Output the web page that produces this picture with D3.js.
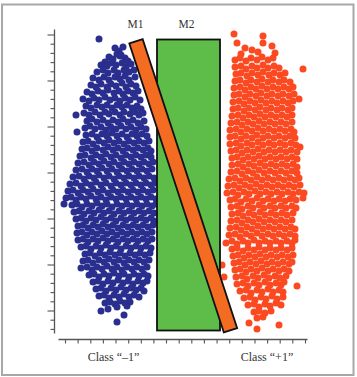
<!DOCTYPE html>
<html><head><meta charset="utf-8">
<script src="https://cdn.jsdelivr.net/npm/d3@7"></script>
<style>html,body{margin:0;padding:0;background:#fff;} svg{display:block;}</style>
</head><body>
<svg id="chart" width="357" height="377"></svg>
<script>
// ---------- data ----------
const classLabels = ["Class \u201C\u20131\u201D", "Class \u201C+1\u201D"];
const classLabelX = [55.5, 209];
const modelNames = ["M1", "M2"];
// M1: centre line of the tilted slab, [x,y] start and end in data units
const m1Line = [[78, 291.7], [172.5, 2.7]];
// M2: rectangle [x0, y0, x1, y1] in data units
const m2Rect = [99, 2.5, 162, 293.5];

const xTicks = [7, 19.6, 32.3, 44.9, 57.5, 70.2, 82.8, 95.4, 108, 120.7, 133.3, 145.9, 158.6, 171.2, 183.8, 196.5, 209.1, 221.7, 234.3, 247];
const yTicks = [4.1, 13.3, 22.5, 31.7, 40.9, 50.1, 59.3, 68.5, 77.7, 86.9, 96.1, 105.3, 114.5, 123.7, 132.9, 142.1, 151.3, 160.5, 169.7, 178.9, 188.1, 197.3, 206.5, 215.7, 224.9, 234.1, 243.3, 252.5, 261.7, 270.9, 280.1, 289.3, 298.5];
const yMajorTicks = [22.5, 68.5, 114.5, 160.5, 206.5, 252.5, 298.5];

const bluePoints = [
[41,294],
[57,285],[61,282],[65,286],[59,279],[63,278],
[51,276],[55,274],[62,277],[67,275],[70,272],[47,271],
[43,268],[49,267],[53,270],[58,268],[64,270],[68,266],[73,269],
[39,261],[45,263],[50,260],[56,263],[60,260],[66,263],[71,261],[76,263],
[35,255],[41,253],[46,256],[51,253],[57,256],[62,254],[67,257],[71,253],[77,256],
[33,248],[38,246],[43,249],[49,246],[53,249],[58,247],[64,250],[68,246],[73,249],[78,247],
[29,241],[34,239],[40,242],[45,240],[50,243],[56,240],[61,242],[65,239],[70,242],[75,240],[80,242],
[25,234],[31,232],[36,235],[41,233],[47,236],[52,233],[57,235],[62,232],[67,235],[72,233],[77,236],[82,233],
[28,227],[33,225],[39,228],[44,226],[49,228],[54,225],[59,228],[64,226],[69,228],[74,225],[79,227],[83,224],
[18,218],
[26,220],[31,218],[37,221],[42,218],[47,221],[51,219],[57,221],[62,218],[66,221],[72,219],[77,221],[81,218],[85,220],
[29,212],[34,214],[39,211],[45,213],[50,210],[55,213],[60,211],[65,214],[70,211],[75,213],[80,210],[86,212],
[27,205],[32,207],[37,204],[43,206],[48,203],[53,206],[58,204],[63,207],[68,204],[73,206],[78,203],[83,206],[88,204],
[19,201],
[28,198],[34,199],[39,196],[44,199],[49,197],[54,200],[59,197],[64,199],[69,196],[74,199],[79,197],[84,199],[89,197],
[25,191],[30,192],[35,189],[41,192],[46,190],[51,193],[56,190],[61,192],[66,189],[71,192],[76,190],[81,192],[86,190],[91,192],
[24,184],[29,185],[34,182],[39,185],[45,183],[50,186],[55,183],[60,185],[65,182],[70,185],[75,183],[80,185],[85,183],[90,185],[93,182],
[22,177],[27,178],[33,175],[38,178],[43,176],[48,179],[53,176],[58,178],[63,175],[68,178],[73,176],[78,178],[83,176],[88,178],[93,176],
[20,170],[26,171],[31,168],[36,171],[41,169],[46,172],[51,169],[56,171],[61,168],[66,171],[71,169],[76,171],[81,169],[86,171],[91,169],[95,171],
[18,163],[24,164],[29,161],[34,164],[39,162],[44,165],[49,162],[54,164],[59,161],[64,164],[69,162],[74,164],[79,162],[84,164],[89,162],[94,164],
[15,156],[21,157],[26,154],[31,157],[36,155],[41,158],[46,155],[51,157],[56,154],[61,157],[66,155],[71,157],[76,155],[81,157],[86,155],[91,157],[96,155],
[12,149],[18,150],[23,147],[28,150],[33,148],[38,151],[43,148],[48,150],[53,147],[58,150],[63,148],[68,150],[73,148],[78,150],[83,148],[88,150],[93,148],[97,150],
[10,142],[15,143],[20,140],[25,143],[30,141],[35,144],[40,141],[45,143],[50,140],[55,143],[60,141],[65,143],[70,141],[75,143],[80,141],[85,143],[90,141],[95,143],
[8,135],[13,136],[18,133],[23,136],[28,134],[33,137],[38,134],[43,136],[48,133],[53,136],[58,134],[63,136],[68,134],[73,136],[78,134],[83,136],[88,134],[93,136],[98,134],
[6,129],
[14,128],[19,129],[24,126],[29,129],[34,127],[39,130],[44,127],[49,129],[54,126],[59,129],[64,127],[69,129],[74,127],[79,129],[84,127],[89,129],[94,127],[98,129],
[16,121],[21,122],[26,119],[31,122],[36,120],[41,123],[46,120],[51,122],[56,119],[61,122],[66,120],[71,122],[76,120],[81,122],[86,120],[91,122],[96,120],
[18,114],[23,115],[28,112],[33,115],[38,113],[43,116],[48,113],[53,115],[58,112],[63,115],[68,113],[73,115],[78,113],[83,115],[88,113],[93,115],[96,112],
[20,107],[25,108],[30,105],[35,108],[40,106],[45,109],[50,106],[55,108],[60,105],[65,108],[70,106],[75,108],[80,106],[85,108],[90,106],[95,108],
[19,100],[24,101],[29,98],[34,101],[39,99],[44,102],[49,99],[54,101],[59,98],[64,101],[69,99],[74,101],[79,99],[84,101],[89,99],[94,101],
[20,93],[25,94],[30,91],[35,94],[40,92],[45,95],[50,92],[55,94],[60,91],[65,94],[70,92],[75,94],[80,92],[85,94],[90,92],[94,94],
[23,86],[28,87],[33,84],[38,87],[43,85],[48,88],[53,85],[58,87],[63,84],[68,87],[73,85],[78,87],[83,85],[88,87],[93,85],
[27,79],[32,80],[37,77],[42,80],[47,78],[52,81],[57,78],[62,80],[67,77],[72,80],[77,78],[82,80],[87,78],[92,80],
[25,72],[30,73],[35,70],[41,73],[46,71],[51,74],[56,71],[61,73],[66,70],[71,73],[76,71],[81,73],[86,71],[91,73],
[23,65],[29,66],[34,63],[39,66],[44,64],[49,67],[54,64],[59,66],[64,63],[69,66],[74,64],[79,66],[84,64],[89,66],
[31,58],[36,59],[41,56],[46,59],[51,57],[56,60],[61,57],[66,59],[71,56],[76,59],[81,57],[86,59],[90,57],
[35,51],[40,52],[45,49],[50,52],[55,50],[60,53],[65,50],[70,52],[75,49],[80,52],[85,50],[89,52],
[38,44],[43,45],[48,42],[53,45],[58,43],[63,46],[68,43],[73,45],[78,43],[83,45],[86,42],
[41,37],[46,38],[51,35],[56,38],[61,36],[66,39],[71,36],[76,38],[81,36],
[47,30],[52,31],[57,29],[62,32],[67,30],[72,31],
[43,22],[59,26],[69,27],[66,18],[59,11],[50,24]
];

const redPoints = [
[176,299],[205,297],[179,290],[205,290],[214,287],[187,285],[194,283],[217,280],[200,281],[183,279],
[177,273],[182,275],[188,272],[193,275],[199,273],[204,276],[210,273],[215,275],
[177,266],[183,267],[188,264],[194,267],[199,265],[205,268],[210,265],[216,267],[221,265],
[245,264],
[178,259],[183,260],[189,257],[194,260],[200,258],[205,261],[211,258],[216,260],[222,258],[227,260],
[177,252],[182,253],[188,250],[193,253],[199,251],[204,254],[210,251],[215,253],[221,251],[226,253],[232,251],
[176,245],[182,246],[187,243],[193,246],[198,244],[204,247],[209,244],[215,246],[220,244],[226,246],[231,244],[235,246],
[176,238],[181,239],[187,236],[192,239],[198,237],[203,240],[209,237],[214,239],[220,237],[225,239],[231,237],[236,239],
[241,234],
[175,231],[181,232],[186,229],[192,232],[197,230],[203,233],[208,230],[214,232],[219,230],[225,232],[230,230],[235,232],
[175,224],[180,225],[186,222],[191,225],[197,223],[202,226],[208,223],[213,225],[219,223],[224,225],[230,223],[234,225],
[174,217],[180,218],[185,215],[191,218],[196,216],[202,219],[207,216],[213,218],[218,216],[224,218],[229,216],[234,218],
[173,210],[179,211],[184,208],[190,211],[195,209],[201,212],[206,209],[212,211],[217,209],[223,211],[228,209],[234,211],
[172,203],[178,204],[183,201],[189,204],[194,202],[200,205],[205,202],[211,204],[216,202],[222,204],[227,202],[233,204],[236,201],
[172,196],[177,197],[183,194],[188,197],[194,195],[199,198],[205,195],[210,197],[216,195],[221,197],[227,195],[232,197],[237,195],
[172,189],[178,190],[183,187],[189,190],[194,188],[200,191],[205,188],[211,190],[216,188],[222,190],[227,188],[233,190],[238,188],[242,186],
[173,182],[178,183],[184,180],[189,183],[195,181],[200,184],[206,181],[211,183],[217,181],[222,183],[228,181],[233,183],[239,181],
[174,175],[179,176],[185,173],[190,176],[196,174],[201,177],[207,174],[212,176],[218,174],[223,176],[229,174],[234,176],[239,174],
[174,168],[180,169],[185,166],[191,169],[196,167],[202,170],[207,167],[213,169],[218,167],[224,169],[229,167],[235,169],[239,166],
[173,161],[179,162],[184,159],[190,162],[195,160],[201,163],[206,160],[212,162],[217,160],[223,162],[228,160],[234,162],[239,160],
[171,154],[177,155],[182,152],[188,155],[193,153],[199,156],[204,153],[210,155],[215,153],[221,155],[226,153],[232,155],[237,153],[241,155],
[170,147],[176,148],[181,145],[187,148],[192,146],[198,149],[203,146],[209,148],[214,146],[220,148],[225,146],[231,148],[236,146],[242,148],
[169,140],[175,141],[180,138],[186,141],[191,139],[197,142],[202,139],[208,141],[213,139],[219,141],[224,139],[230,141],[235,139],[241,141],[246,140],
[245,135],[238,133],
[172,133],[177,134],[183,131],[188,134],[194,132],[199,135],[205,132],[210,134],[216,132],[221,134],[227,132],[232,134],
[173,126],[179,127],[184,124],[190,127],[195,125],[201,128],[206,125],[212,127],[217,125],[223,127],[228,125],[234,127],[238,125],
[174,119],[180,120],[185,117],[191,120],[196,118],[202,121],[207,118],[213,120],[218,118],[224,120],[229,118],[235,120],
[173,112],[179,113],[184,110],[190,113],[195,111],[201,114],[206,111],[212,113],[217,111],[223,113],[228,111],[234,113],
[172,105],[178,106],[183,103],[189,106],[194,104],[200,107],[205,104],[211,106],[216,104],[222,106],[227,104],[233,106],[237,104],
[171,98],[177,99],[182,96],[188,99],[193,97],[199,100],[204,97],[210,99],[215,97],[221,99],[226,97],[232,99],[237,97],
[168,90],[174,92],[179,89],[185,92],[190,90],[196,93],[201,90],[207,92],[212,90],[218,92],[223,90],[229,92],[234,90],[237,93],
[174,84],[179,85],[185,82],[190,85],[196,83],[201,86],[207,83],[212,85],[218,83],[223,85],[229,83],[234,85],
[175,77],[180,78],[186,75],[191,78],[197,76],[202,79],[208,76],[213,78],[219,76],[224,78],[230,76],[235,78],
[164,68],[166,56],
[176,70],[181,71],[187,68],[192,71],[198,69],[203,72],[209,69],[214,71],[220,69],[225,71],[231,69],[234,71],
[177,63],[182,64],[188,61],[193,64],[199,62],[204,65],[210,62],[215,64],[221,62],[226,64],[231,62],
[178,56],[184,57],[189,54],[195,57],[200,55],[206,58],[211,55],[217,57],[222,55],[228,57],
[239,47],
[179,49],[185,50],[190,47],[196,50],[201,48],[207,51],[212,48],[218,50],[223,48],[226,51],
[182,42],[188,43],[193,40],[199,43],[204,41],[210,44],[215,41],[221,43],[225,41],
[186,35],[192,36],[197,33],[203,36],[208,34],[214,37],[219,34],[225,36],
[190,28],[196,29],[201,26],[207,29],[212,27],[218,30],[223,28],
[196,21],[201,22],[207,20],[213,22],
[199,15],[205,16],[191,10],[199,4],[221,8]
];

// ---------- drawing ----------
const svg = d3.select("#chart");
const x = d3.scaleLinear().domain([0, 249]).range([58, 307]);
const y = d3.scaleLinear().domain([0, 304]).range([333, 29]);

// frame
svg.append("rect")
  .attr("x", 2).attr("y", 4.5).attr("width", 351.5).attr("height", 370.5)
  .attr("fill", "#fff").attr("stroke", "#a8a8a8").attr("stroke-width", 2);

const axisColor = "#555";

// y axis
const gy = svg.append("g").attr("transform", "translate(54,0)")
  .call(d3.axisLeft(y).tickValues(yTicks).tickSize(3.5).tickSizeOuter(0).tickFormat(""));
gy.selectAll(".tick line")
  .attr("x2", d => yMajorTicks.includes(d) ? -6.5 : -3.5);

// x axis
const gx = svg.append("g").attr("transform", "translate(0,339)")
  .call(d3.axisBottom(x).tickValues(xTicks).tickSize(4.5).tickSizeOuter(0).tickFormat(""));

[gx, gy].forEach(g => {
  g.select(".domain").attr("stroke", axisColor).attr("stroke-width", 1.3);
  g.selectAll(".tick line").attr("stroke", axisColor).attr("stroke-width", 1.1);
});

// points
const pointR = 3.5;
svg.append("g").selectAll("circle").data(bluePoints).join("circle")
  .attr("cx", d => x(d[0])).attr("cy", d => y(d[1])).attr("r", pointR)
  .attr("fill", "#2a2e8e");
svg.append("g").selectAll("circle").data(redPoints).join("circle")
  .attr("cx", d => x(d[0])).attr("cy", d => y(d[1])).attr("r", pointR)
  .attr("fill", "#fb4921");

// M2 rectangle
svg.append("rect")
  .attr("x", x(m2Rect[0])).attr("y", y(m2Rect[3]))
  .attr("width", x(m2Rect[2]) - x(m2Rect[0]))
  .attr("height", y(m2Rect[1]) - y(m2Rect[3]))
  .attr("fill", "#5ebc48").attr("stroke", "#111").attr("stroke-width", 1.8);

// M1 slab
const p0 = [x(m1Line[0][0]), y(m1Line[0][1])];
const p1 = [x(m1Line[1][0]), y(m1Line[1][1])];
const len = Math.hypot(p1[0] - p0[0], p1[1] - p0[1]);
const half = 7;
const nx = -(p1[1] - p0[1]) / len * half, ny = (p1[0] - p0[0]) / len * half;
const poly = [[p0[0] + nx, p0[1] + ny], [p0[0] - nx, p0[1] - ny], [p1[0] - nx, p1[1] - ny], [p1[0] + nx, p1[1] + ny]];
svg.append("path")
  .attr("d", d3.line()(poly) + "Z")
  .attr("fill", "#f36c22").attr("stroke", "#111").attr("stroke-width", 1.8)
  .attr("stroke-linejoin", "miter");

// model labels
const labelFont = "'Liberation Serif', 'Times New Roman', serif";
svg.append("text").text(modelNames[0])
  .attr("x", p0[0] - 0.5).attr("y", y(m2Rect[3]) - 11.5)
  .attr("text-anchor", "middle").attr("font-family", labelFont)
  .attr("font-size", 11.5).attr("fill", "#333");
svg.append("text").text(modelNames[1])
  .attr("x", (x(m2Rect[0]) + x(m2Rect[2])) / 2 - 2).attr("y", y(m2Rect[3]) - 11.5)
  .attr("text-anchor", "middle").attr("font-family", labelFont)
  .attr("font-size", 11.5).attr("fill", "#333");

// class labels
svg.append("g").selectAll("text").data(classLabels).join("text")
  .text(d => d)
  .attr("x", (d, i) => x(classLabelX[i])).attr("y", 361)
  .attr("text-anchor", "middle").attr("font-family", labelFont)
  .attr("font-size", 12).attr("fill", "#333");
</script>
</body></html>
